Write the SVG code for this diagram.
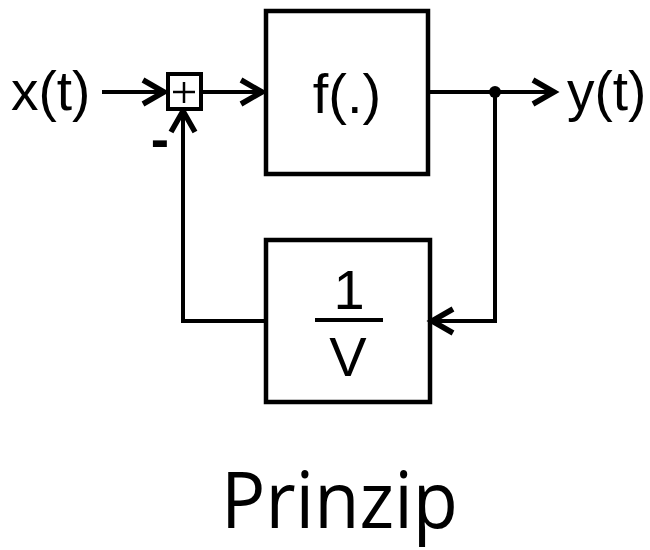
<svg xmlns="http://www.w3.org/2000/svg" width="650" height="550" viewBox="0 0 650 550">
<style>
.box{fill:none;stroke:#000;stroke-width:4.5}
.ln{fill:none;stroke:#000;stroke-width:4}
.ah{fill:none;stroke:#000;stroke-width:5.5;stroke-linejoin:miter;stroke-miterlimit:10;stroke-linecap:butt}
.t{font-family:"Liberation Sans",Arial,sans-serif;fill:#000}
</style>
<rect width="650" height="550" fill="#fff"/>
<g id="connectors">
  <line class="ln" x1="102" y1="92" x2="163" y2="92"/>
  <polyline class="ah" points="143,80 164,92 143,104"/>
  <line class="ln" x1="202" y1="92" x2="262" y2="92"/>
  <polyline class="ah" points="241,80 262,92 241,104"/>
  <line class="ln" x1="428" y1="92" x2="552" y2="92"/>
  <polyline class="ah" points="533,80 554,92 533,104"/>
  <circle cx="495" cy="92" r="6" fill="#000"/>
  <polyline class="ln" points="495,92 495,321 434,321"/>
  <polyline class="ah" points="453,309 432,321 453,333"/>
  <polyline class="ln" points="266,321 183,321 183,113"/>
  <polyline class="ah" points="171,132 183,111 195,132"/>
</g>
<g id="sum">
  <rect x="168" y="74" width="33" height="35" fill="#fff" stroke="#000" stroke-width="4"/>
  <line x1="173" y1="92" x2="195" y2="92" stroke="#000" stroke-width="2.5"/>
  <line x1="184" y1="82" x2="184" y2="103" stroke="#000" stroke-width="2.5"/>
  <text class="t" x="160" y="158" font-size="55" font-weight="bold" text-anchor="middle">-</text>
</g>
<g id="input">
  <text class="t" x="11" y="110" font-size="55">x(t)</text>
</g>
<g id="output">
  <text class="t" x="567" y="110" font-size="55">y(t)</text>
</g>
<g id="f">
  <rect class="box" x="266" y="11" width="162" height="163"/>
  <text class="t" x="347" y="113" font-size="56" text-anchor="middle">f(.)</text>
</g>
<g id="gain">
  <rect class="box" x="266" y="240" width="164" height="162"/>
  <text class="t" x="349" y="309" font-size="56" text-anchor="middle">1</text>
  <line x1="315" y1="320" x2="383" y2="320" stroke="#000" stroke-width="4"/>
  <text class="t" x="348" y="376" font-size="56" text-anchor="middle">V</text>
</g>
<g id="title">
  <text x="221" y="528" font-family="'Open Sans','Noto Sans',sans-serif" font-size="79" textLength="237" lengthAdjust="spacingAndGlyphs" fill="#000">Prinzip</text>
</g>
</svg>
